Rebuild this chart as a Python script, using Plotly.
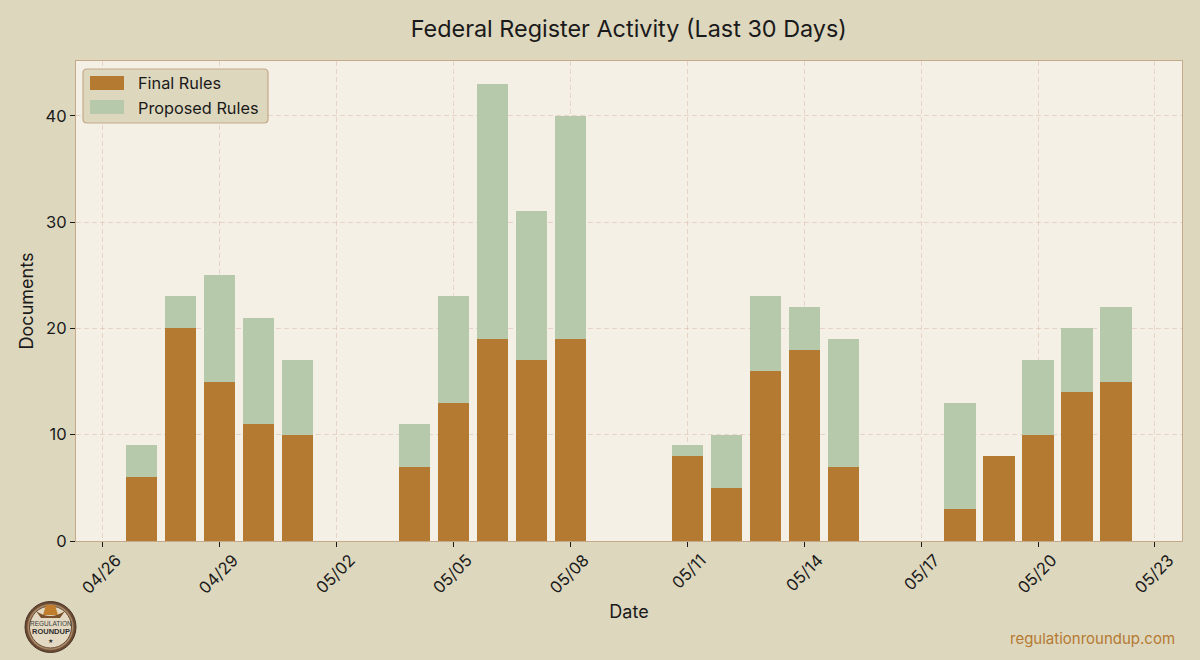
import plotly.graph_objects as go

# documents per publication day (weekdays only)
dates = ["2025-04-27", "2025-04-28", "2025-04-29", "2025-04-30", "2025-05-01",
         "2025-05-04", "2025-05-05", "2025-05-06", "2025-05-07", "2025-05-08",
         "2025-05-11", "2025-05-12", "2025-05-13", "2025-05-14", "2025-05-15",
         "2025-05-18", "2025-05-19", "2025-05-20", "2025-05-21", "2025-05-22"]
final_rules = [6, 20, 15, 11, 10, 7, 13, 19, 17, 19, 8, 5, 16, 18, 7, 3, 8, 10, 14, 15]
proposed_rules = [3, 3, 10, 10, 7, 4, 10, 24, 14, 21, 1, 5, 7, 4, 12, 10, 0, 7, 6, 7]

FONT = "Inter"
INK = "#1a1a1a"
PAPER = "#ddd7be"
PLOT = "#f5f0e6"
EDGE = "#c4a98a"
GRID = "rgba(205,160,140,0.35)"
FINAL_COLOR = "#b57a32"
PROPOSED_COLOR = "#b7c9ab"
DAY = 86400000

# plot area in window pixels
L, R, T, B = 76, 1182, 61, 541


def px(x):
    return (x - L) / (R - L)


def py(y):
    return (B - y) / (B - T)


fig = go.Figure()
fig.add_trace(go.Bar(x=dates, y=final_rules, name="Final Rules", width=0.8 * DAY,
                     marker=dict(color=FINAL_COLOR, line=dict(width=0))))
fig.add_trace(go.Bar(x=dates, y=proposed_rules, name="Proposed Rules", width=0.8 * DAY,
                     marker=dict(color=PROPOSED_COLOR, line=dict(width=0))))

# rounded legend box, the legend itself is transparent and sits on top
lx0, lx1, ly0, ly1, r = px(83), px(268), py(69), py(123), 4 / (R - L)
ry = 4 / (B - T)
box = (f"M {lx0 + r} {ly0} L {lx1 - r} {ly0} Q {lx1} {ly0} {lx1} {ly0 - ry} "
       f"L {lx1} {ly1 + ry} Q {lx1} {ly1} {lx1 - r} {ly1} "
       f"L {lx0 + r} {ly1} Q {lx0} {ly1} {lx0} {ly1 + ry} "
       f"L {lx0} {ly0 - ry} Q {lx0} {ly0} {lx0 + r} {ly0} Z")
shapes = [dict(type="path", path=box, xref="paper", yref="paper", layer="above",
               fillcolor=PAPER, line=dict(color=EDGE, width=1.2))]


def rect(x0, x1, y0, y1, fill):
    return dict(type="rect", xref="paper", yref="paper", layer="above",
                x0=px(x0), x1=px(x1), y0=py(y1), y1=py(y0),
                fillcolor=fill, line=dict(width=0))


# plotly's bar swatches are small, widen them to the reference's size
shapes += [rect(90, 124, 76, 90, FINAL_COLOR), rect(90, 124, 100, 114, PROPOSED_COLOR)]


def circle(cx, cy, rad, fill, line, width):
    return dict(type="circle", xref="paper", yref="paper", layer="above",
                x0=px(cx - rad), x1=px(cx + rad), y0=py(cy + rad), y1=py(cy - rad),
                fillcolor=fill, line=dict(color=line, width=width))


# logo badge, bottom left
shapes += [
    circle(50.5, 627, 25.5, "#6b4a33", "#4a3324", 1),
    circle(50.5, 627, 23, "#a98c6b", "#8a6a4c", 0.5),
    circle(50.5, 627, 21, "#e3d9c2", "#6b4a33", 1),
    dict(type="path", xref="paper", yref="paper", layer="above",
         path=(f"M {px(36)} {py(611)} Q {px(50)} {py(621)} {px(65)} {py(611)} "
               f"L {px(60)} {py(618)} L {px(41)} {py(618)} Z"),
         fillcolor="#7a4f2a", line=dict(width=0)),
    dict(type="path", xref="paper", yref="paper", layer="above",
         path=(f"M {px(43)} {py(615)} L {px(46)} {py(605)} L {px(55)} {py(605)} "
               f"L {px(58)} {py(615)} Z"),
         fillcolor="#c07d2c", line=dict(width=0)),
]


def label(text, x, y, family, size, color, xanchor="center"):
    return dict(text=text, x=px(x), y=py(y), xref="paper", yref="paper", showarrow=False,
                xanchor=xanchor, yanchor="middle", font=dict(family=family, size=size, color=color))


annotations = [
    label("REGULATION", 50.5, 623, "Liberation Sans", 6.5, "#3a3a3a"),
    label("<b>ROUNDUP</b>", 50.5, 631, "Liberation Sans", 7.5, "#2e2e2e"),
    label("★", 50.5, 640, "DejaVu Sans", 6, "#2e2e2e"),
    label("regulationroundup.com", 1177, 638, FONT, 15, FINAL_COLOR, xanchor="right"),
]

fig.update_layout(
    width=1200, height=660,
    autosize=False,
    margin=dict(l=L, r=1200 - R, t=T, b=660 - B),
    paper_bgcolor=PAPER,
    plot_bgcolor=PLOT,
    barmode="stack",
    bargap=0,
    font=dict(family=FONT, size=16, color=INK),
    title=dict(text="Federal Register Activity (Last 30 Days)", x=0.524, xanchor="center",
               y=0.957, yanchor="middle", font=dict(family=FONT, size=23.4, color=INK)),
    showlegend=True,
    legend=dict(x=px(76), y=py(66), xanchor="left", yanchor="top", bgcolor="rgba(0,0,0,0)",
                borderwidth=0, traceorder="normal", itemwidth=52,
                font=dict(family=FONT, size=16.3, color=INK)),
    shapes=shapes,
    annotations=annotations,
)
fig.update_xaxes(
    type="date",
    range=["2025-04-25 07:40", "2025-05-23 16:40"],
    tick0="2025-04-26", dtick=3 * DAY, tickformat="%m/%d", tickangle=-45,
    ticks="outside", ticklen=5, tickwidth=1.2, tickcolor=INK,
    ticklabelshift=14, ticklabelstandoff=-3,
    showgrid=True, gridcolor=GRID, griddash="5px,3px", gridwidth=1,
    showline=True, linecolor=EDGE, linewidth=1.2, mirror=True, zeroline=False,
    title=dict(text="Date", standoff=8, font=dict(family=FONT, size=18, color=INK)),
    tickfont=dict(family=FONT, size=16.5, color=INK),
)
fig.update_yaxes(
    range=[0, 45.15],
    tickvals=[0, 10, 20, 30, 40],
    ticks="outside", ticklen=5, tickwidth=1.2, tickcolor=INK,
    showgrid=True, gridcolor=GRID, griddash="5px,3px", gridwidth=1,
    showline=True, linecolor=EDGE, linewidth=1.2, mirror=True, zeroline=False,
    title=dict(text="Documents", standoff=7, font=dict(family=FONT, size=18, color=INK)),
    tickfont=dict(family=FONT, size=16.5, color=INK),
)

# drop the browser's default page margin so the figure fills the window
fig.write_html("out.html", config=dict(displayModeBar=False),
               post_script="document.body.style.margin='0';document.documentElement.style.overflow='hidden';")
